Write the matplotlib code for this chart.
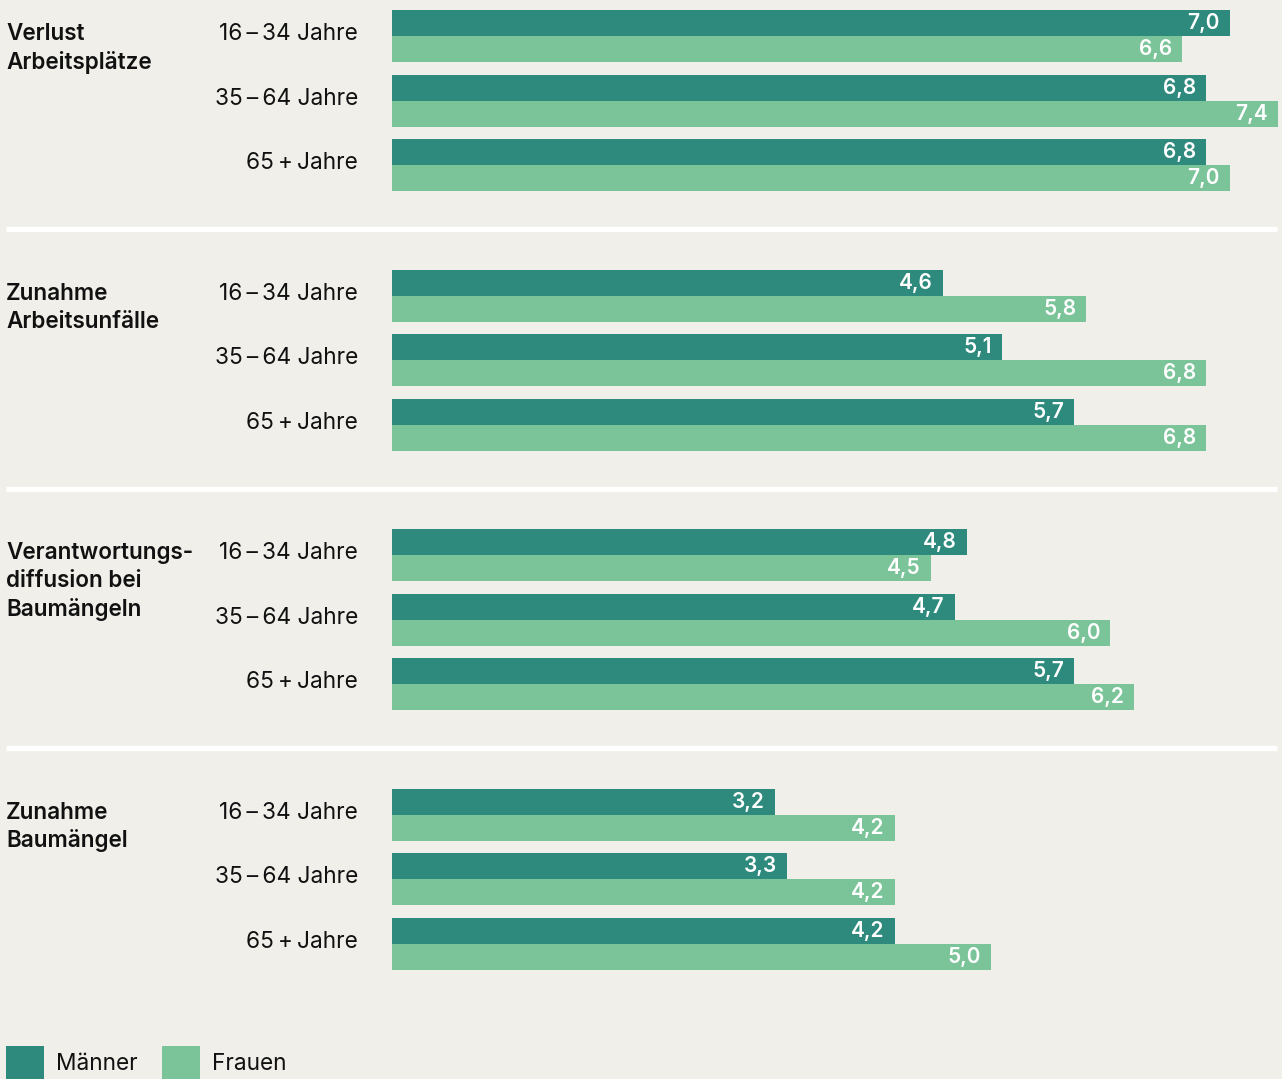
import matplotlib.pyplot as plt
from matplotlib.patches import Rectangle

plt.rcParams['font.family'] = ['Inter', 'DejaVu Sans']

# data
categories = ['Verlust\nArbeitsplätze', 'Zunahme\nArbeitsunfälle',
              'Verantwortungs-\ndiffusion bei\nBaumängeln', 'Zunahme\nBaumängel']
age_groups = ['16\u2009–\u200934 Jahre', '35\u2009–\u200964 Jahre', '65\u2009+\u2009Jahre']
maenner = [[7.0, 6.8, 6.8], [4.6, 5.1, 5.7], [4.8, 4.7, 5.7], [3.2, 3.3, 4.2]]
frauen = [[6.6, 7.4, 7.0], [5.8, 6.8, 6.8], [4.5, 6.0, 6.2], [4.2, 4.2, 5.0]]
series_names = ['Männer', 'Frauen']

DARK = '#2d8a7d'
LIGHT = '#7bc499'
BG = '#f0efea'
INK = '#111111'

W, H = 1282, 1079
PX = 119.7          # pixels per unit
X0 = 392            # bar origin in px
SECT = 259.6        # section pitch
GRP = 64.6          # group pitch
BAR = 26            # bar height

fig = plt.figure(figsize=(W / 100, H / 100), dpi=100, facecolor=BG)
ax = fig.add_axes([0, 0, 1, 1])
ax.set_facecolor(BG)
ax.set_xlim(-X0 / PX, (W - X0) / PX)
ax.set_ylim(H, 0)
ax.axis('off')


def px(x):
    # pixel column -> data x
    return (x - X0) / PX


def fmt(v):
    return f'{v:.1f}'.replace('.', ',')


pad = 10 / PX
for s, cat in enumerate(categories):
    top = 10 + s * SECT
    for i, ln in enumerate(cat.split('\n')):
        ax.text(px(6), top + 24 + i * 28, ln, ha='left', va='center',
                fontsize=16.2, fontweight='semibold', color=INK)
    for g, age in enumerate(age_groups):
        gt = top + g * GRP
        ax.text(px(358), gt + 24, age, ha='right', va='center',
                fontsize=16.3, color=INK)
        for k, (vals, col) in enumerate([(maenner, DARK), (frauen, LIGHT)]):
            v = vals[s][g]
            y = gt + k * BAR
            ax.barh(y + BAR / 2, v, height=BAR, left=0, color=col, linewidth=0)
            ax.text(v - pad, y + BAR / 2, fmt(v), ha='right', va='center',
                    fontsize=15, color='white', fontweight='semibold')
    if s < len(categories) - 1:
        ax.plot([px(6), px(1277)], [top + 219, top + 219],
                color='white', linewidth=3.8, solid_capstyle='butt')

# legend
for name, col, x in zip(series_names, [DARK, LIGHT], [6, 162]):
    ax.add_patch(Rectangle((px(x), 1046), 38 / PX, 38, color=col, linewidth=0))
    ax.text(px(x + 50), 1064, name, ha='left', va='center',
            fontsize=16.3, color=INK)

fig.savefig('out.png', dpi=100, facecolor=BG)
